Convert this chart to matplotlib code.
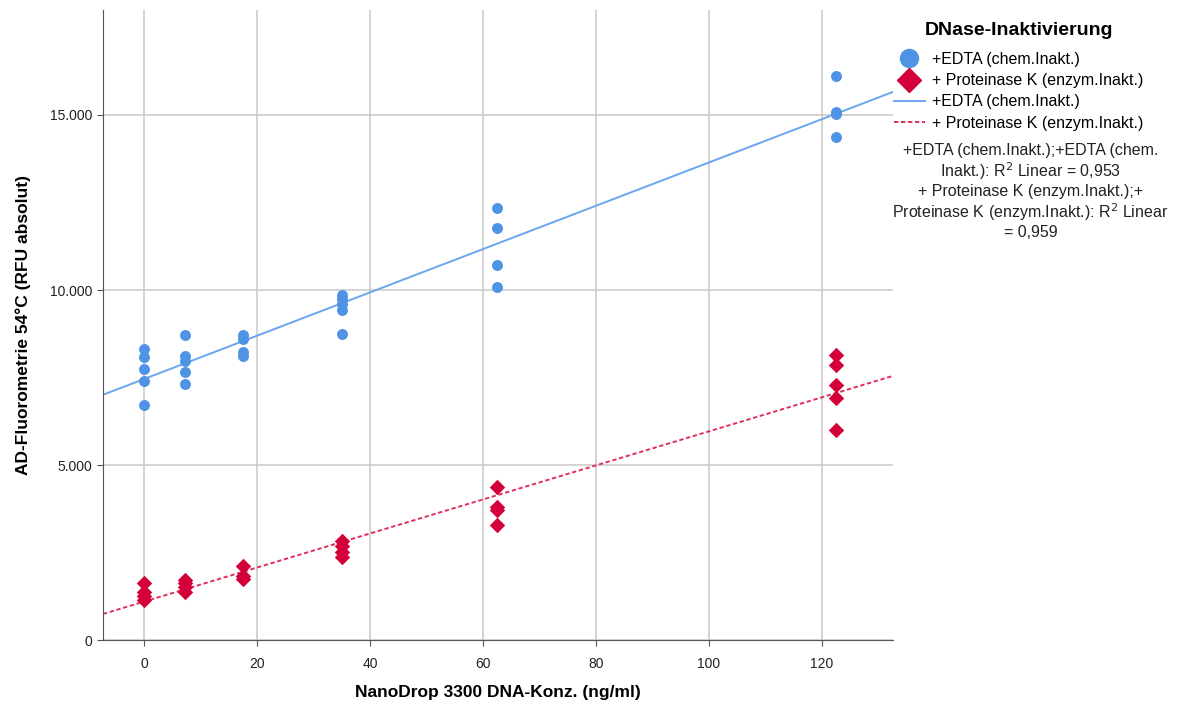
import matplotlib.pyplot as plt
import numpy as np
from matplotlib.lines import Line2D

plt.rcParams['font.family'] = ['Liberation Sans', 'DejaVu Sans']

# measured points, x = DNA conc. (ng/ml), y = RFU
edta_x = [0, 0, 0, 0, 0,
          7.3, 7.3, 7.3, 7.3, 7.3,
          17.5, 17.5, 17.5, 17.5,
          35, 35, 35, 35, 35,
          62.5, 62.5, 62.5, 62.5,
          122.5, 122.5, 122.5, 122.5]
edta_y = [8310, 8090, 7740, 7400, 6710,
          8710, 8110, 7970, 7660, 7310,
          8710, 8600, 8230, 8110,
          9860, 9740, 9600, 9430, 8740,
          12340, 11770, 10710, 10090,
          16120, 15090, 15030, 14370]

prot_x = [0, 0, 0, 0,
          7.3, 7.3, 7.3, 7.3,
          17.5, 17.5, 17.5,
          35, 35, 35, 35,
          62.5, 62.5, 62.5, 62.5,
          122.5, 122.5, 122.5, 122.5, 122.5]
prot_y = [1630, 1370, 1260, 1140,
          1710, 1630, 1510, 1370,
          2110, 1830, 1740,
          2830, 2690, 2510, 2370,
          4380, 3810, 3710, 3290,
          8140, 7860, 7290, 6910, 6000]

xticks = [0, 20, 40, 60, 80, 100, 120]
yticks = [0, 5000, 10000, 15000]
ytick_labels = ['0', '5.000', '10.000', '15.000']

blue = '#4f93e4'
blue_line = '#6aa6ee'
red = '#d3003a'
red_line = '#e0305a'
dash = (0, (2.2, 1.4))

fig = plt.figure(figsize=(11.77, 7.04), dpi=100)
ax = fig.add_axes([0.0875, 0.0909, 0.6712, 0.8949])

ax.set_xlim(-7.3, 132.6)
ax.set_ylim(0, 18000)
ax.set_xticks(xticks)
ax.set_yticks(yticks)
ax.set_yticklabels(ytick_labels)
ax.grid(True, color='#c8c8c8', linewidth=1.1)
ax.set_axisbelow(True)
for s in ['top', 'right']:
    ax.spines[s].set_visible(False)
for s in ['left', 'bottom']:
    ax.spines[s].set_color('#555555')
ax.tick_params(axis='both', colors='#555555', labelcolor='#222222',
               labelsize=10, length=4)
for lbl in ax.get_xticklabels() + ax.get_yticklabels():
    lbl.set_family(['Liberation Sans Narrow', 'Liberation Sans'])
ax.tick_params(axis='x', pad=8)

ax.set_xlabel('NanoDrop 3300 DNA-Konz. (ng/ml)', fontsize=12.5,
              fontweight='bold', labelpad=10)
ax.set_ylabel('AD-Fluorometrie 54°C (RFU absolut)', fontsize=12.5,
              fontweight='bold', labelpad=14)

ax.scatter(edta_x, edta_y, s=62, color=blue, zorder=3, linewidths=0)
ax.scatter(prot_x, prot_y, s=62, marker='D', color=red, zorder=3,
           linewidths=0)

xl = np.array(ax.get_xlim())
b1 = np.polyfit(edta_x, edta_y, 1)
b2 = np.polyfit(prot_x, prot_y, 1)
ax.plot(xl, np.polyval(b1, xl), color=blue_line, linewidth=1.4, zorder=2)
ax.plot(xl, np.polyval(b2, xl), color=red_line, linewidth=1.4,
        linestyle=dash, zorder=2)
ax.set_xlim(xl)

handles = [
    Line2D([], [], marker='o', linestyle='none', color=blue, markersize=13),
    Line2D([], [], marker='D', linestyle='none', color=red, markersize=12),
    Line2D([], [], color=blue_line, linewidth=1.4),
    Line2D([], [], color=red_line, linewidth=1.4, linestyle=dash),
]
labels = ['+EDTA (chem.Inakt.)', '+ Proteinase K (enzym.Inakt.)',
          '+EDTA (chem.Inakt.)', '+ Proteinase K (enzym.Inakt.)']
leg = fig.legend(handles, labels, loc='upper left',
                 bbox_to_anchor=(0.757, 0.973), frameon=False,
                 fontsize=11.5, title='DNase-Inaktivierung',
                 title_fontproperties={'weight': 'bold', 'size': 14},
                 handlelength=1.9, handletextpad=0.45, labelspacing=0.4,
                 borderaxespad=0, borderpad=0.2)
leg._legend_box.align = 'center'
leg._legend_box.sep = 9

note = ('+EDTA (chem.Inakt.);+EDTA (chem.\n'
        'Inakt.): R$^2$ Linear = 0,953\n'
        '+ Proteinase K (enzym.Inakt.);+\n'
        'Proteinase K (enzym.Inakt.): R$^2$ Linear\n'
        '= 0,959')
fig.text(0.8755, 0.797, note, ha='center', va='top', fontsize=11.5,
         linespacing=1.15, color='#222222')

fig.savefig('out.png', dpi=100)
